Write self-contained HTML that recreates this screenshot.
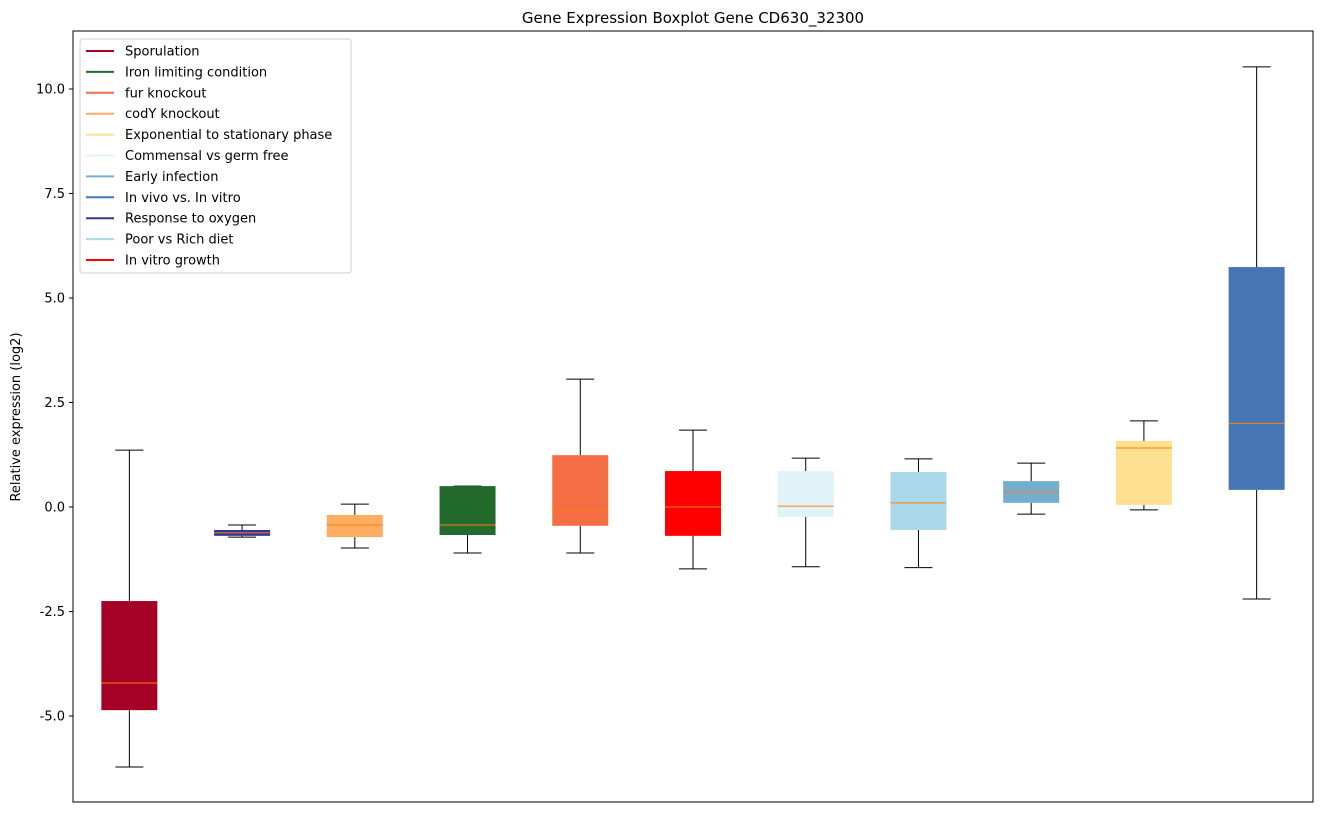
<!DOCTYPE html>
<html><head><meta charset="utf-8"><style>
body{margin:0;background:#fff;font-family:"Liberation Sans","DejaVu Sans",sans-serif;}
svg text{font-family:"DejaVu Sans","Liberation Sans",sans-serif;}
</style></head><body>
<svg id="chart" width="1322" height="812" xmlns="http://www.w3.org/2000/svg">
<rect width="1322" height="812" fill="#fff"/>
<text x="693" y="23" font-size="15" text-anchor="middle">Gene Expression Boxplot Gene CD630_32300</text>
<g id="yaxis"></g>
<g id="boxes"></g>
<rect x="73" y="31" width="1240" height="771" fill="none" stroke="#000" stroke-width="1"/>
<text transform="translate(20,417) rotate(-90)" font-size="13" text-anchor="middle">Relative expression (log2)</text>
<g id="legend"></g>
</svg>
<script>
const labels=["Sporulation","Response to oxygen","codY knockout","Iron limiting condition","fur knockout","In vitro growth","Commensal vs germ free","Poor vs Rich diet","Early infection","Exponential to stationary phase","In vivo vs. In vitro"];
const colors=["#a50026","#313695","#fdae61","#236b2d","#f46d43","#ff0000","#e0f3f8","#abd9e9","#74add1","#fee090","#4575b4"];
const whiskerHigh=[1.36,-0.43,0.07,0.5,3.06,1.84,1.17,1.15,1.05,2.06,10.53];
const q3=[-2.25,-0.55,-0.19,0.5,1.24,0.86,0.86,0.84,0.62,1.58,5.74];
const medians=[-4.21,-0.62,-0.43,-0.43,-0.1,0.0,0.02,0.1,0.36,1.41,2.0];
const q1=[-4.86,-0.69,-0.72,-0.67,-0.45,-0.69,-0.24,-0.55,0.1,0.05,0.41];
const whiskerLow=[-6.22,-0.72,-0.98,-1.1,-1.1,-1.48,-1.43,-1.45,-0.17,-0.07,-2.2];
const yTicks=[-5.0,-2.5,0.0,2.5,5.0,7.5,10.0];
const legendLabels=["Sporulation","Iron limiting condition","fur knockout","codY knockout","Exponential to stationary phase","Commensal vs germ free","Early infection","In vivo vs. In vitro","Response to oxygen","Poor vs Rich diet","In vitro growth"];
const legendColors=["#a50026","#236b2d","#f46d43","#fdae61","#fee090","#e0f3f8","#74add1","#4575b4","#313695","#abd9e9","#ff0000"];
const NS="http://www.w3.org/2000/svg";
const y=v=>507-v*41.8;
const x=i=>73+(i+0.5)*1240/11;
function mk(t,a,p){const e=document.createElementNS(NS,t);for(const k in a)e.setAttribute(k,a[k]);p.appendChild(e);return e;}
const ya=document.getElementById('yaxis');
yTicks.forEach(v=>{
 const l=mk('line',{x1:69,x2:73,y1:y(v),y2:y(v),stroke:'#000'},ya);
 
 
 const t=mk('text',{x:65,y:y(v)+4.5,'font-size':13,'text-anchor':'end'},ya);
 t.textContent=v.toFixed(1);
 
 
});
const bx=document.getElementById('boxes');
labels.forEach((n,i)=>{
 const g=mk('g',{},bx);
 
 
 const c=x(i),w=28,cap=14;
 mk('line',{x1:c,x2:c,y1:y(whiskerHigh[i]),y2:y(q3[i]),stroke:'#000'},g);
 mk('line',{x1:c,x2:c,y1:y(q1[i]),y2:y(whiskerLow[i]),stroke:'#000'},g);
 mk('line',{x1:c-cap,x2:c+cap,y1:y(whiskerHigh[i]),y2:y(whiskerHigh[i]),stroke:'#000'},g);
 mk('line',{x1:c-cap,x2:c+cap,y1:y(whiskerLow[i]),y2:y(whiskerLow[i]),stroke:'#000'},g);
 mk('rect',{x:c-w,y:y(q3[i]),width:2*w,height:Math.max(1,y(q1[i])-y(q3[i])),fill:colors[i]},g);
 mk('line',{x1:c-w,x2:c+w,y1:y(medians[i]),y2:y(medians[i]),stroke:'#ff7f0e'},g);
});
const lg=document.getElementById('legend');
const fr=mk('rect',{x:80,y:39,width:271,height:234,rx:3,fill:'#fff',stroke:'#ccc'},lg);
legendLabels.forEach((n,i)=>{
 const yy=51+i*20.9;
 const e=mk('g',{},lg);
 
 
 mk('line',{x1:86,x2:114,y1:yy,y2:yy,stroke:legendColors[i],'stroke-width':2},e);
 const t=mk('text',{x:125,y:yy+4.5,'font-size':13},e);
 t.textContent=n;
});
</script>
</body></html>
